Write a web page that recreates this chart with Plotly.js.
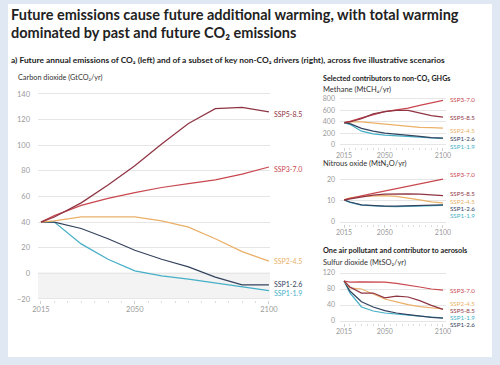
<!DOCTYPE html>
<html><head><meta charset="utf-8">
<script src="https://cdn.plot.ly/plotly-3.0.1.min.js"></script>
<style>html,body{margin:0;padding:0;background:#fff}#chart{width:500px;height:365px}</style>
</head><body><div id="chart"></div>
<script>
const years = [2015,2020,2030,2040,2050,2060,2070,2080,2090,2100];
const scenarios = ['SSP1-1.9','SSP1-2.6','SSP2-4.5','SSP3-7.0','SSP5-8.5'];

// Carbon dioxide (GtCO2/yr)
const co2_ssp119 = [40,40,23,11,2,-2,-4.5,-7.5,-11,-13.5];
const co2_ssp126 = [40,40,35,27,18,11,5,-3,-9,-9];
const co2_ssp245 = [40,41,44,44,44,41,36,27,17,9.5];
const co2_ssp370 = [40,45,53,58.5,63,67,70,73,77.5,83];
const co2_ssp585 = [40,44,55,69,84,101,117,128.5,129.5,126];

// Methane (MtCH4/yr)
const ch4_ssp119 = [390,360,240,195,170,155,145,135,125,115];
const ch4_ssp126 = [390,370,290,240,205,190,170,150,130,120];
const ch4_ssp245 = [390,400,400,380,360,340,320,305,300,295];
const ch4_ssp370 = [390,410,470,530,580,610,640,690,735,775];
const ch4_ssp585 = [390,400,460,540,580,600,600,560,510,485];

// Nitrous oxide (MtN2O/yr)
const n2o_ssp119 = [10.5,9.3,8.0,7.6,7.4,7.3,7.4,7.5,7.7,7.9];
const n2o_ssp126 = [10.5,9.5,8.2,7.8,7.6,7.5,7.6,7.7,7.9,8.1];
const n2o_ssp245 = [10.5,11.5,12.2,12.5,12.5,12.2,11.5,10.5,9.6,9.1];
const n2o_ssp370 = [10.5,11.2,12.4,13.6,14.7,15.8,17.0,18.1,19.2,20.4];
const n2o_ssp585 = [10.5,11.0,12.0,12.8,13.2,13.4,13.4,13.3,13.0,12.6];

// Sulfur dioxide (MtSO2/yr)
const so2_ssp119 = [100,70,35,25,20,17,15,12,10,8];
const so2_ssp126 = [100,75,48,35,26,20,16,12,9,7];
const so2_ssp245 = [100,83,80,68,55,48,41,36,33,30];
const so2_ssp370 = [100,97,98,98,97,94,90,85,80,77];
const so2_ssp585 = [100,85,70,70,58,62,60,51,39,29];

const colors = {
  'SSP1-1.9':'#45afc6','SSP1-2.6':'#34435e','SSP2-4.5':'#eab068',
  'SSP3-7.0':'#c9474f','SSP5-8.5':'#8f3443'
};

const W=500,H=365;
const px=x=>x/W, py=y=>1-y/H;
const FONT='Lato, "Open Sans", sans-serif';

const traces=[];
function addSet(xa,ya,data){
  scenarios.forEach((s,i)=>{
    traces.push({x:years,y:data[i],type:'scatter',mode:'lines',xaxis:xa,yaxis:ya,
      line:{color:colors[s],width:1.25},hoverinfo:'skip',showlegend:false});
  });
}
addSet('x','y',[co2_ssp119,co2_ssp126,co2_ssp245,co2_ssp370,co2_ssp585]);
addSet('x2','y2',[ch4_ssp119,ch4_ssp126,ch4_ssp245,ch4_ssp370,ch4_ssp585]);
addSet('x3','y3',[n2o_ssp119,n2o_ssp126,n2o_ssp245,n2o_ssp370,n2o_ssp585]);
addSet('x4','y4',[so2_ssp119,so2_ssp126,so2_ssp245,so2_ssp370,so2_ssp585]);

function tf(s){return {family:FONT,size:s,color:'#9a9a9a'};}
function xax(d0,d1,r0,r1,anchor,fs,so){
  return {domain:[px(d0),px(d1)],range:[r0,r1],anchor:anchor,tickvals:[2015,2050,2100],
    showgrid:false,zeroline:false,showline:false,ticks:'outside',ticklen:3,tickcolor:'#d0d0d0',
    minor:{tick0:2015,dtick:5,ticks:'outside',ticklen:2,tickcolor:'#dddddd',showgrid:false},
    tickfont:tf(fs),ticklabelstandoff:so,fixedrange:true};
}
function yax(t,b,r0,r1,tv,anchor,standoff,fs){
  return {domain:[py(b),py(t)],range:[r0,r1],anchor:anchor,tickvals:tv,showgrid:true,
    gridcolor:'#e6e6e6',gridwidth:1,zeroline:false,showline:false,ticks:'',
    tickfont:tf(fs),ticklabelstandoff:standoff,fixedrange:true};
}

const layout={
  width:W,height:H,margin:{l:0,r:0,t:0,b:0},
  paper_bgcolor:'#dfe8f3',plot_bgcolor:'rgba(0,0,0,0)',
  font:{family:FONT},
  xaxis:xax(38,270,2013.9,2100.4,'y',7.5,-1),
  yaxis:yax(90,300,-20.8,143.1,[-20,0,20,40,60,80,100,120,140],'x',7,7.5),
  xaxis2:xax(340,446,2011.5,2102.6,'y2',7,-1),
  yaxis2:yax(96,147,-35,852,[0,200,400,600,800],'x2',4,7),
  xaxis3:xax(340,446,2011.5,2102.6,'y3',7,-1),
  yaxis3:yax(177,224,-0.95,21.4,[0,10,20],'x3',4,7),
  xaxis4:xax(340,446,2011.5,2102.6,'y4',7,-1),
  yaxis4:yax(270,323,-5,127.5,[0,40,80,120],'x4',4,7),
  shapes:[
    {type:'rect',xref:'paper',yref:'paper',x0:px(8),x1:px(492),y0:py(357),y1:py(4),
      fillcolor:'#ffffff',line:{width:0},layer:'below'},
    {type:'rect',xref:'x domain',yref:'y',x0:0,x1:1,y0:-20,y1:0,
      fillcolor:'#f3f3f3',line:{width:0},layer:'below'},
    {type:'line',xref:'x domain',yref:'y',x0:0,x1:1,y0:0,y1:0,
      line:{color:'#bdbdbd',width:1},layer:'below'}
  ],
  annotations:[]
};

const A=layout.annotations;
function txt(x,y,text,size,color,bold,anchor){
  A.push({xref:'paper',yref:'paper',x:px(x),y:py(y),text:bold?'<b>'+text+'</b>':text,
    showarrow:false,xanchor:anchor||'left',yanchor:'middle',borderpad:0,
    font:{family:FONT,size:size,color:color}});
}
txt(10,15,'Future emissions cause future additional warming, with total warming',14.5,'#222',true);
txt(10,33,'dominated by past and future CO₂ emissions',14.5,'#222',true);
txt(10,60,'a) Future annual emissions of CO₂ (left) and of a subset of key non-CO₂ drivers (right), across five illustrative scenarios',8.4,'#222',true);
txt(17,77,'Carbon dioxide (GtCO₂/yr)',7.3,'#333',false);
txt(322,78,'Selected contributors to non-CO₂ GHGs',7.2,'#222',true);
txt(322,89,'Methane (MtCH₄/yr)',7.5,'#333',false);
txt(322,164,'Nitrous oxide (MtN₂O/yr)',7.5,'#333',false);
txt(322,251,'One air pollutant and contributor to aerosols',7.3,'#222',true);
txt(322,262,'Sulfur dioxide (MtSO₂/yr)',7.5,'#333',false);

// main series labels
const LM=7, LR=6.2;
txt(273,114,'SSP5-8.5',LM,colors['SSP5-8.5']);
txt(273,169,'SSP3-7.0',LM,colors['SSP3-7.0']);
txt(273,261,'SSP2-4.5',LM,colors['SSP2-4.5']);
txt(273,284,'SSP1-2.6',LM,colors['SSP1-2.6']);
txt(273,293,'SSP1-1.9',LM,colors['SSP1-1.9']);
// methane labels
txt(449,99,'SSP3-7.0',LR,colors['SSP3-7.0']);
txt(449,117,'SSP5-8.5',LR,colors['SSP5-8.5']);
txt(449,130,'SSP2-4.5',LR,colors['SSP2-4.5']);
txt(449,138.5,'SSP1-2.6',LR,colors['SSP1-2.6']);
txt(449,146,'SSP1-1.9',LR,colors['SSP1-1.9']);
// N2O labels
txt(449,175,'SSP3-7.0',LR,colors['SSP3-7.0']);
txt(449,193,'SSP5-8.5',LR,colors['SSP5-8.5']);
txt(449,201.5,'SSP2-4.5',LR,colors['SSP2-4.5']);
txt(449,208.5,'SSP1-2.6',LR,colors['SSP1-2.6']);
txt(449,215.5,'SSP1-1.9',LR,colors['SSP1-1.9']);
// SO2 labels
txt(449,290,'SSP3-7.0',LR,colors['SSP3-7.0']);
txt(449,303.5,'SSP2-4.5',LR,colors['SSP2-4.5']);
txt(449,310.5,'SSP5-8.5',LR,colors['SSP5-8.5']);
txt(449,317.5,'SSP1-1.9',LR,colors['SSP1-1.9']);
txt(449,324.5,'SSP1-2.6',LR,colors['SSP1-2.6']);

Plotly.newPlot('chart',traces,layout,{displayModeBar:false,staticPlot:true});
</script></body></html>
